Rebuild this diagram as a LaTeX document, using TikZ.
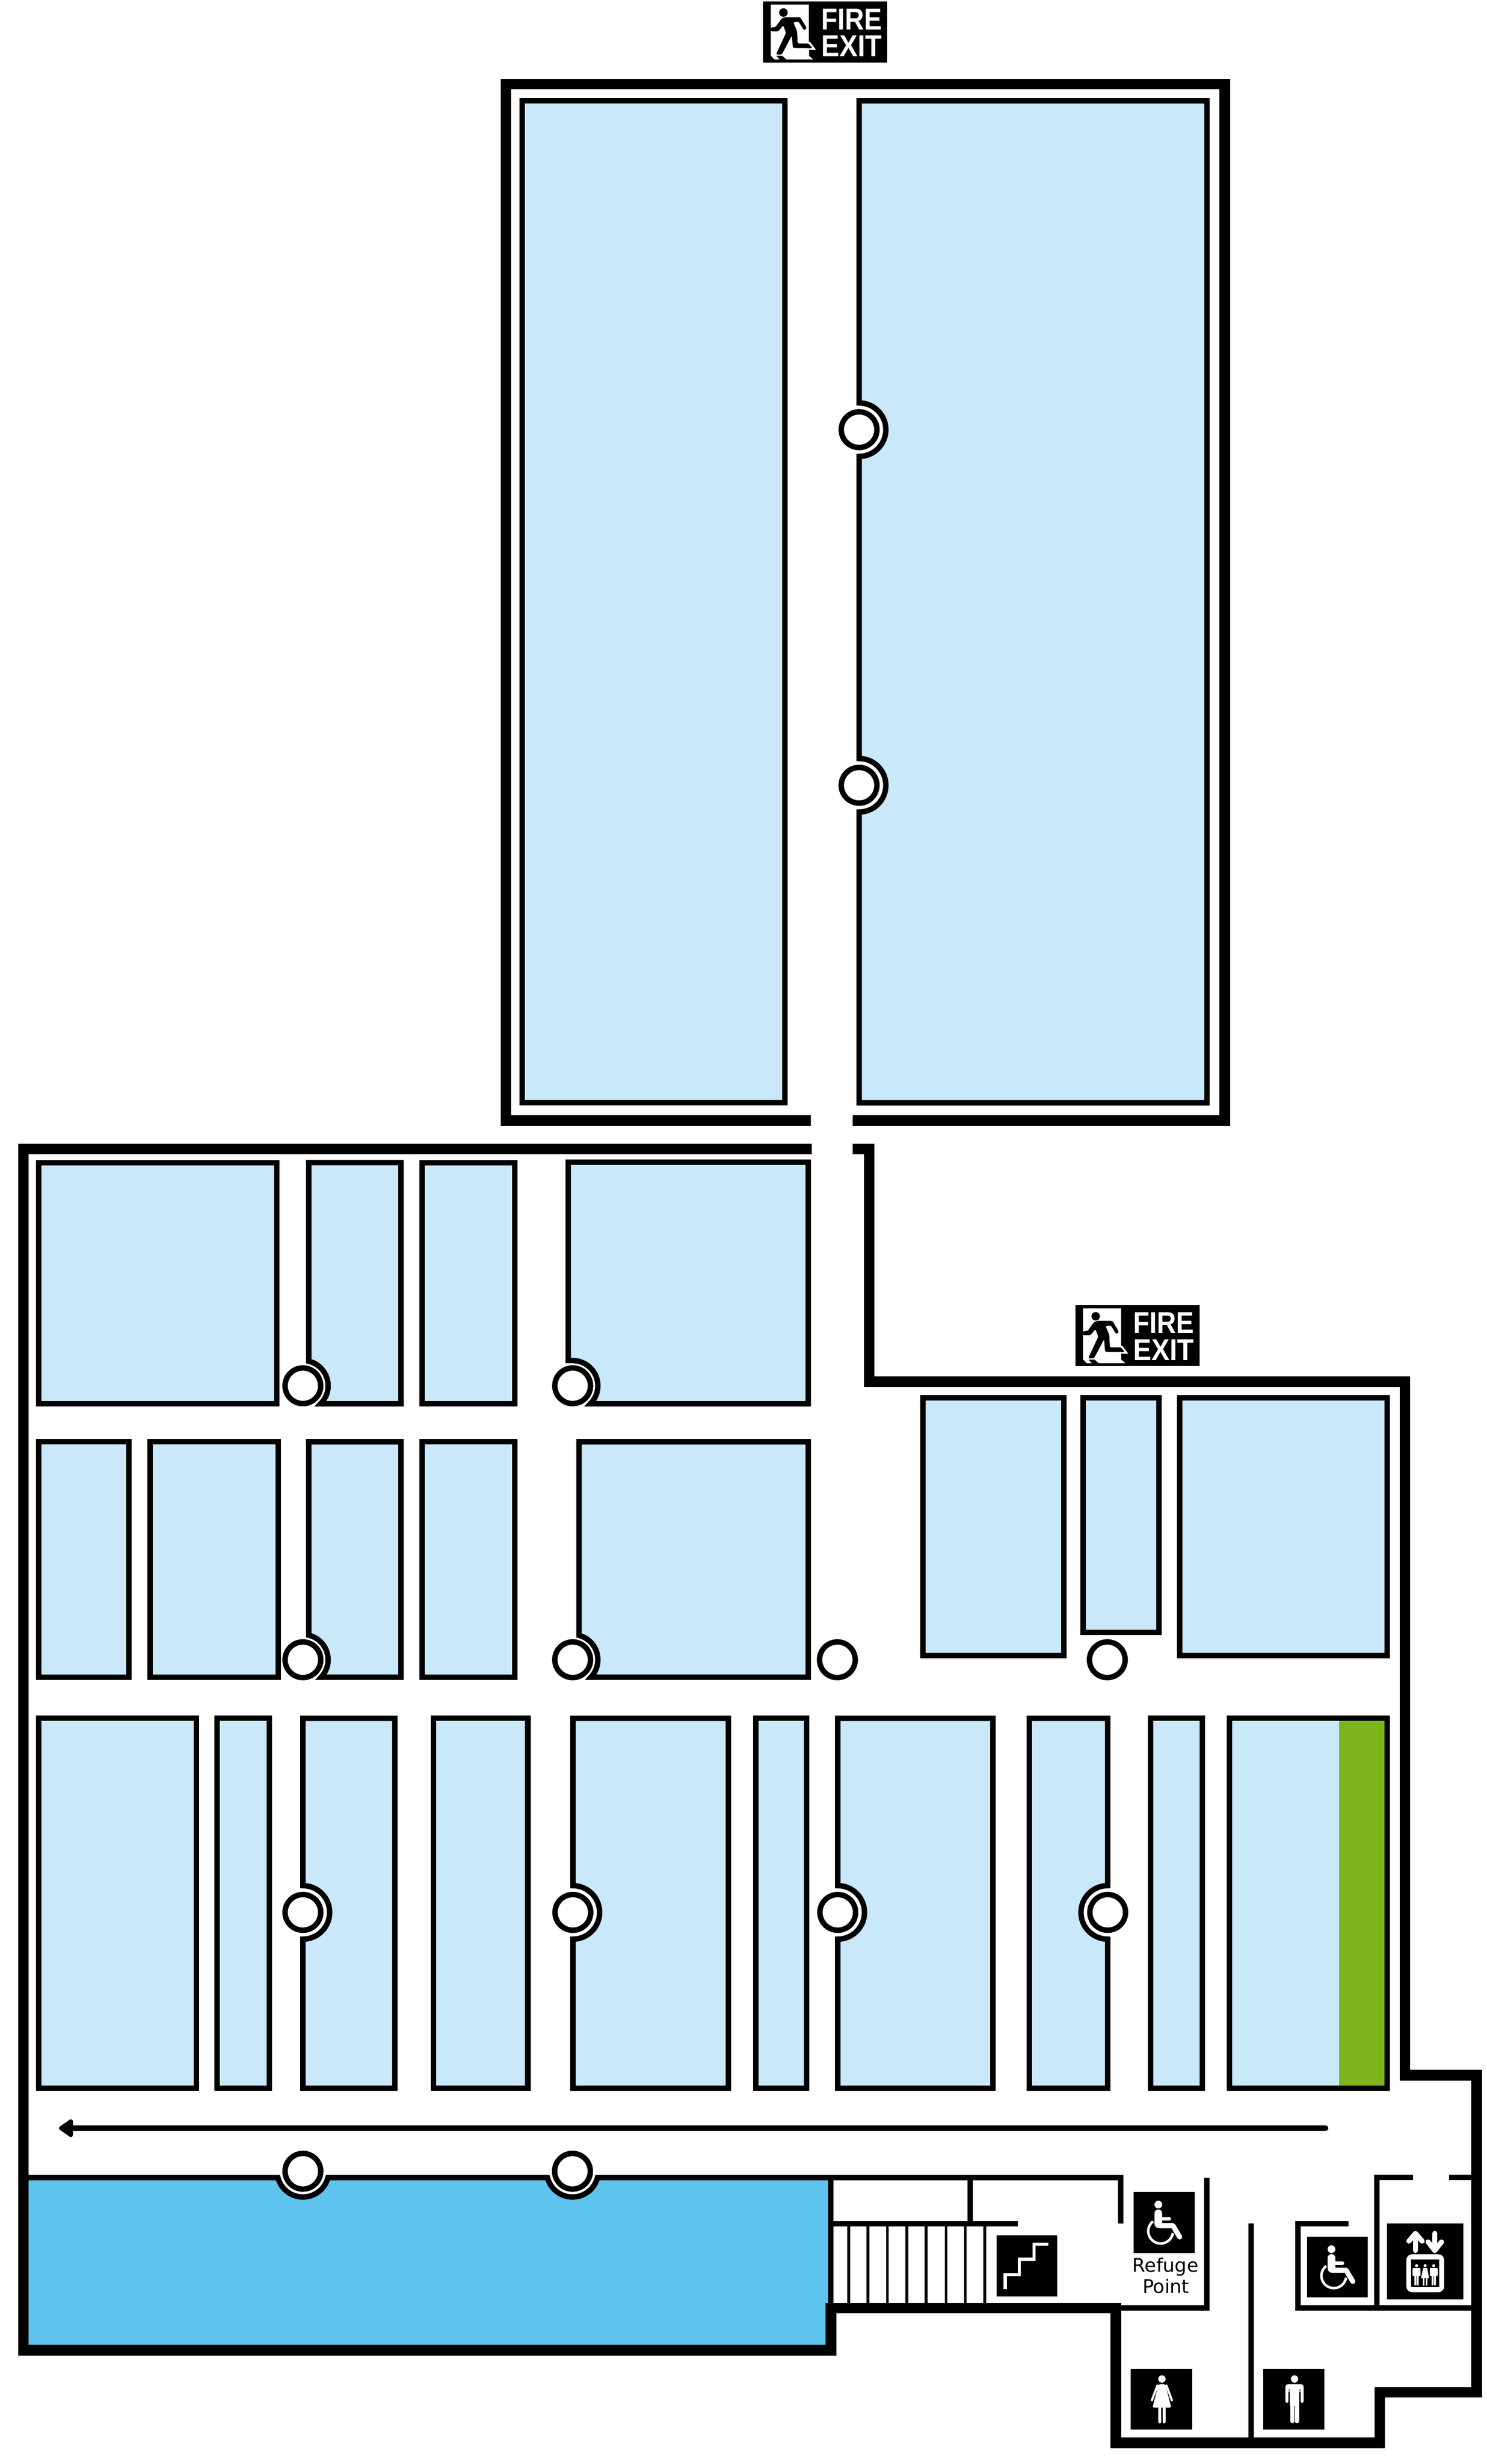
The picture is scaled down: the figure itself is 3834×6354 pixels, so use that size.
\documentclass[tikz,border=0pt]{standalone}
\usepackage{fontspec}
\usetikzlibrary{arrows.meta}
\newfontfamily\signfont{Liberation Sans}
\newfontfamily\labelfont{DejaVu Sans}
\definecolor{roomblue}{HTML}{C9E8F9}
\definecolor{hallblue}{HTML}{5EC4ED}
\definecolor{roomgreen}{HTML}{7DB41B}
\tikzset{
  room/.style={draw=black,fill=roomblue,line width=2.8pt},
  roomedge/.style={draw=black,line width=2.8pt},
  thickwall/.style={draw=black,line width=5.5pt},
  thinwall/.style={draw=black,line width=2.8pt},
  stairline/.style={draw=black,line width=1.4pt},
  pillar/.style={draw=black,fill=white,line width=2.8pt},
  iconline/.style={draw=white,line cap=round,line join=round},
}
\newcommand{\pillarat}[2]{\draw[pillar] (#1,#2) circle[radius=9.2pt];}
\newcommand{\firesign}[2]{%
\begin{scope}[shift={(#1,#2)},x=0.066667pt,y=-0.066667pt]
  \fill[black] (202,10) rectangle (1164,483);
  \fill[white] (262,36)--(557,36)--(557,324)--(567,326)--(612,386)--(558,386)--(558,432)--(590,460)--(383,460)--(352,432)--(304,432)--(330,460)--(290,460)--(262,430)--cycle;
  \fill[black] (360,97) circle[radius=2.2pt];
  \fill[black,rounded corners=0.7pt] (370,133)--(490,133)--(540,218)--(525,234)--(512,225)--(478,168)--(436,172)--(465,240)--(470,337)--(555,337)--(585,373)--(436,372)--(432,360)--(425,275)--(347,422)--(302,422)--(380,255)--(358,196)--(320,243)--(262,243)--(262,212)--(298,210)--(345,145)--cycle;
  \node[anchor=base west,inner sep=0pt,text=white] (fire#1) at (650,230) {\scalebox{.88}[1]{\signfont\bfseries\fontsize{15.6}{15.6}\selectfont FIRE}};
  \node[anchor=base west,inner sep=0pt,text=white] (exit#1) at (650,438) {\scalebox{.9}[1]{\signfont\bfseries\fontsize{15.6}{15.6}\selectfont EXIT}};
\end{scope}}
\newcommand{\wheelsign}[2]{%
\begin{scope}[shift={(#1,#2)}]
  \fill[black] (0,0) rectangle (157,157);
  \fill[white] (63.5,32) circle[radius=2pt];
  \fill[white,rounded corners=2pt] (53.5,62)--(53.5,44.7)--(73.6,44.7)--(73.6,62)--cycle;
  \fill[white] (53.5,56)--(73.6,56)--(73.6,79.7)--(102,79.7)--(102,93)--(66.8,93) .. controls (58,93) and (53.5,88) .. (53.5,80)--cycle;
  \draw[iconline,line width=1.8pt] (73,68.2)--(92,68.2);
  \draw[iconline,line width=2.6pt] (101.5,86.7)--(118.5,115.3);
  \draw[draw=white,line width=1.3pt] (49.8,75.2) arc[start angle=128,end angle=351,radius=6.4pt];
\end{scope}}
\newcommand{\liftman}[1]{%
  \fill[white] (#1,109.3) circle[radius=0.8pt];
  \fill[white,rounded corners=0.4pt] (#1-10,115)--(#1+10,115)--(#1+10,136)--(#1-10,136)--cycle;
  \fill[white,rounded corners=0.3pt] (#1-5.6,130)--(#1-0.6,130)--(#1-0.6,160)--(#1-5.6,160)--cycle;
  \fill[white,rounded corners=0.3pt] (#1+0.6,130)--(#1+5.6,130)--(#1+5.6,160)--(#1+0.6,160)--cycle;
}
\begin{document}
\begin{tikzpicture}[x=0.2pt,y=-0.2pt,line join=miter]
\useasboundingbox (0,0) rectangle (3834,6354);
\fill[white] (0,0) rectangle (3834,6354);
% upper block
\draw[thickwall] (2091,2890)--(1304.5,2890)--(1304.5,216.5)--(3158,216.5)--(3158,2890)--(2198,2890);
\draw[room] (1346,260) rectangle (2024,2844);
\draw[room] (2215,260)--(3112,260)--(3112,2844)--(2215,2844)--(2215,2094)
  arc[start angle=-90,end angle=90,radius=13.8pt]--(2215,1177)
  arc[start angle=-90,end angle=90,radius=13.8pt]--cycle;
\pillarat{2215}{1108}\pillarat{2215}{2025}
\firesign{1900}{0}
% lower block: blue hall fill
\fill[hallblue] (60.5,5615.5)--(716.6,5615.5) arc[start angle=194.4,end angle=345.6,radius=13.3pt]
  --(1411.6,5615.5) arc[start angle=194.4,end angle=345.6,radius=13.3pt]
  --(2142.4,5615.5)--(2142.4,6060.5)--(60.5,6060.5)--cycle;
% row 1
\draw[room] (100,2998) rectangle (714,3620);
\draw[room] (796,2998)--(1034,2998)--(1034,3620)--(826.4,3620)
  arc[start angle=-45.7,end angle=76.6,radius=13pt]--cycle;
\draw[room] (1089,2998) rectangle (1327,3620);
\draw[room] (1465,2997)--(2084,2997)--(2084,3620)--(1521.9,3620)
  arc[start angle=-45.7,end angle=90,radius=13pt]--(1465,3508.5)--cycle;
% row 2
\draw[room] (100,3718) rectangle (332,4325);
\draw[room] (387,3718) rectangle (717,4325);
\draw[room] (796,3718)--(1034,3718)--(1034,4325)--(827.9,4325)
  arc[start angle=-43.8,end angle=76.6,radius=13pt]--cycle;
\draw[room] (1089,3718) rectangle (1327,4325);
\draw[room] (1493,3718)--(2084,3718)--(2084,4325)--(1523.4,4325)
  arc[start angle=-43.8,end angle=75.3,radius=13pt]--cycle;
% right block rooms
\draw[room] (2379,3604) rectangle (2743,4269);
\draw[room] (2793,3604) rectangle (2988,4210);
\draw[room] (3042,3604) rectangle (3576.5,4269);
% row 3
\draw[room] (100,4431) rectangle (506,5385);
\draw[room] (560,4431) rectangle (694,5385);
\draw[room] (781,4431)--(1018,4431)--(1018,5385)--(781,5385)--(781,5000.5)
  arc[start angle=-90,end angle=90,radius=13.8pt]--cycle;
\draw[room] (1118,4431) rectangle (1361,5385);
\draw[room] (1477,4431)--(1878,4431)--(1878,5385)--(1477,5385)--(1477,5000.5)
  arc[start angle=-90,end angle=90,radius=13.8pt]--cycle;
\draw[room] (1949,4431) rectangle (2080,5385);
\draw[room] (2160,4431)--(2560,4431)--(2560,5385)--(2160,5385)--(2160,5000.5)
  arc[start angle=-90,end angle=90,radius=13.8pt]--cycle;
\draw[room] (2654,4431)--(2856,4431)--(2856,4862.5)
  arc[start angle=90,end angle=270,radius=13.8pt]--(2856,5385)--(2654,5385)--cycle;
\draw[room] (2967,4431) rectangle (3100,5385);
\fill[roomblue] (3170,4431) rectangle (3453,5385);
\fill[roomgreen] (3453,4431) rectangle (3576.5,5385);
\draw[roomedge] (3170,4431) rectangle (3576.5,5385);
% pillars
\pillarat{781}{3573.5}\pillarat{1476.5}{3573.5}
\pillarat{781}{4280}\pillarat{1476.5}{4280}\pillarat{2159}{4280}\pillarat{2855}{4280}
\pillarat{781}{4931.5}\pillarat{1477}{4931.5}\pillarat{2160}{4931.5}\pillarat{2856}{4931.5}
\firesign{2705}{3362}
% outer wall of lower block
\draw[thickwall] (2093,2963)--(60.5,2963)--(60.5,6060.5)--(2142.5,6060.5)--(2142.5,5951.5)--(2877,5951.5)--(2877,6299.5)--(3557.5,6299.5)--(3557.5,6169)--(3807,6169)--(3807,5351)--(3622.5,5351)--(3622.5,3563)--(2241,3563)--(2241,2963)--(2198,2963);
% corridor arrow
\coordinate (arrowstart) at (3418,5488);
\coordinate (arrowend) at (152,5488);
\draw[line width=2.8pt,line cap=round,-{Triangle[length=8pt,width=10.4pt,round]}] (arrowstart)--(arrowend);
% corridor south wall
\draw[thinwall] (60.5,5615.5)--(716.6,5615.5) arc[start angle=194.4,end angle=345.6,radius=13.3pt]
  --(1411.6,5615.5) arc[start angle=194.4,end angle=345.6,radius=13.3pt]
  --(2889.5,5615.5)--(2889.5,5734);
\pillarat{781}{5599}\pillarat{1476}{5599}
% stairs
\draw[thinwall] (2142.4,5615.5)--(2142.4,5940);
\draw[thinwall] (2502,5615.5)--(2502,5734);
\draw[thinwall] (2142.4,5734)--(2624.5,5734);
\foreach \sx in {2188,2238,2288,2338,2388,2439,2489,2539}
  \draw[stairline] (\sx,5734)--(\sx,5940);
\fill[black] (2569,5764) rectangle (2726,5922);
\draw[draw=white,line width=1.7pt] (2592,5903)--(2592,5866)--(2628,5866)--(2628,5826)--(2666,5826)--(2666,5787)--(2703,5787);
% refuge
\draw[thinwall] (2880,5952)--(3111,5952)--(3111,5616);
\wheelsign{2923}{5653}
\node[inner sep=0pt,anchor=base,font=\labelfont\fontsize{9.7}{9.7}\selectfont] (refuge) at (3005,5859) {Refuge};
\node[inner sep=0pt,anchor=base,font=\labelfont\fontsize{9.7}{9.7}\selectfont] (point) at (3006,5914) {Point};
% toilets partition
\draw[thinwall] (3226,5734)--(3226,6290);
\fill[black] (2915,6108.5) rectangle (3073.5,6265.5);
\fill[black] (3257,6108.5) rectangle (3415,6265.5);
\begin{scope}[shift={(2915,6108.5)}]
  \fill[white] (80.8,26.2) circle[radius=1.9pt];
  \fill[white,rounded corners=0.8pt] (72,39.7)--(89.5,39.7)--(105,100)--(56.5,100)--cycle;
  \draw[iconline,line width=1.1pt] (69,43)--(55,81);
  \draw[iconline,line width=1.1pt] (92.5,43)--(106.5,81);
  \draw[iconline,line width=1.5pt] (75.3,100)--(75.3,137);
  \draw[iconline,line width=1.5pt] (86.3,100)--(86.3,137);
\end{scope}
\begin{scope}[shift={(3257,6108.5)}]
  \fill[white] (80.8,26.2) circle[radius=1.9pt];
  \fill[white,rounded corners=1.2pt] (57.5,60)--(57.5,39.7)--(104,39.7)--(104,60)--cycle;
  \fill[white] (68.6,45)--(93,45)--(93,95)--(68.6,95)--cycle;
  \draw[iconline,line width=1.5pt] (61.5,50)--(61.5,84);
  \draw[iconline,line width=1.5pt] (100,50)--(100,84);
  \draw[draw=black,line width=0.3pt] (66.4,52)--(66.4,90) (95.2,52)--(95.2,90);
  \draw[iconline,line width=2.2pt] (75,90)--(75,135);
  \draw[iconline,line width=2.2pt] (87,90)--(87,135);
\end{scope}
% accessible room and lift
\draw[thinwall] (3476.4,5734)--(3346,5734)--(3346,5952)--(3800,5952);
\draw[thinwall] (3643,5615.5)--(3550,5615.5)--(3550,5952);
\draw[thinwall] (3735.6,5615.5)--(3800,5615.5);
\wheelsign{3369.5}{5768}
\fill[black] (3576,5733.3) rectangle (3773,5930);
\begin{scope}[shift={(3576,5733.3)}]
  \draw[iconline,line width=2.6pt] (73.6,70)--(73.6,28);
  \draw[iconline,line width=2.6pt] (56.5,46)--(73.6,26)--(90.8,46);
  \draw[iconline,line width=2.6pt] (123.3,26)--(123.3,68);
  \draw[iconline,line width=2.6pt] (106,48)--(123.3,70)--(140.7,48);
  \fill[white,rounded corners=3pt] (50,79.7) rectangle (147.5,177.7);
  \fill[black] (62.7,93.3) rectangle (134.2,164);
  \liftman{76.3}
  \liftman{120.6}
  \fill[white] (98.4,109.3) circle[radius=0.8pt];
  \fill[white] (93.4,115)--(103.4,115)--(108.9,141.7)--(87.9,141.7)--cycle;
  \draw[draw=white,line width=0.7pt] (95,140)--(95,160) (101.8,140)--(101.8,160);
\end{scope}
\end{tikzpicture}
\end{document}
